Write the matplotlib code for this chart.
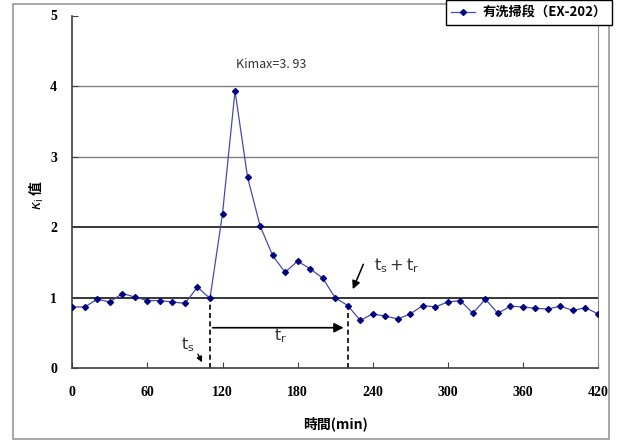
import matplotlib
matplotlib.use("Agg")
import matplotlib.pyplot as plt
from matplotlib.patches import Rectangle

plt.rcParams['font.family'] = ['Noto Sans CJK TC', 'DejaVu Sans']

minutes = [0, 10, 20, 30, 40, 50, 60, 70, 80, 90, 100, 110, 120, 130, 140,
           150, 160, 170, 180, 190, 200, 210, 220, 230, 240, 250, 260, 270,
           280, 290, 300, 310, 320, 330, 340, 350, 360, 370, 380, 390, 400,
           410, 420]
ki = [0.87, 0.87, 0.98, 0.94, 1.06, 1.01, 0.96, 0.96, 0.94, 0.92, 1.15, 0.99,
      2.19, 3.93, 2.71, 2.02, 1.60, 1.36, 1.52, 1.41, 1.28, 1.00, 0.89, 0.68,
      0.77, 0.74, 0.70, 0.77, 0.89, 0.87, 0.94, 0.96, 0.78, 0.98, 0.78, 0.88,
      0.87, 0.85, 0.84, 0.88, 0.82, 0.86, 0.77]
x_ticks = [0, 60, 120, 180, 240, 300, 360, 420]
y_ticks = [0, 1, 2, 3, 4, 5]
series_name = '有洗掃段（EX-202）'
ts = 110
tr_end = 220
ki_max = 3.93

fig = plt.figure(figsize=(6.19, 4.45), dpi=100)
ax = fig.add_axes([72.3/619, 1-368.3/445, (598-72.3)/619, (368.3-15.5)/445])

# grid lines (1 and 2 dark, 3 and 4 gray like the original)
for v in [1, 2]:
    ax.axhline(v, color='black', lw=1.1, zorder=1)
for v in [3, 4]:
    ax.axhline(v, color='#808080', lw=1.0, zorder=1)

ax.plot(minutes, ki, color='#4a4aa8', lw=0.9, marker='D', markersize=3,
        markerfacecolor='#000080', markeredgecolor='#000080', zorder=3,
        label=series_name)

ax.set_xlim(0, 420)
ax.set_ylim(0, 5)
ax.set_xticks(x_ticks)
ax.set_yticks(y_ticks)
ax.tick_params(direction='in', length=4, color='#404040')
ax.tick_params(axis='x', pad=13)
ax.tick_params(axis='y', pad=11)
for lab in ax.get_xticklabels() + ax.get_yticklabels():
    lab.set_fontfamily('Liberation Serif')
    lab.set_fontweight('bold')
    lab.set_fontsize(10)

ax.spines['top'].set_visible(False)
ax.spines['right'].set_color('#909090')
ax.spines['left'].set_color('#404040')
ax.spines['bottom'].set_color('#404040')
ax.spines['left'].set_linewidth(1.2)
ax.spines['bottom'].set_linewidth(1.2)

ax.set_xlabel('時間(min)', fontsize=10, fontweight='bold', labelpad=12)
ax.set_ylabel(r'$\kappa_{\mathrm{i}}$ 值', fontsize=10, fontweight='bold')
ax.yaxis.set_label_coords((46 - 72.3) / 525.7, 0.49)

# t_s and t_s+t_r markers
ax.plot([ts, ts], [0, ki[minutes.index(ts)]], color='black', lw=1.2, ls=(0, (3, 2)), zorder=2)
ax.plot([tr_end, tr_end], [0, ki[minutes.index(tr_end)]], color='black', lw=1.2, ls=(0, (3, 2)), zorder=2)
ax.annotate('', xy=(tr_end - 1, 0.575), xytext=(ts, 0.575),
            arrowprops=dict(arrowstyle='-|>', color='black', lw=1.2, mutation_scale=14))
ax.text(166, 0.46, r'$\mathrm{t}_{\mathrm{r}}$', ha='center', va='center', fontsize=11.5, color='#333333')
ax.text(92, 0.33, r'$\mathrm{t}_{\mathrm{s}}$', ha='center', va='center', fontsize=11.5, color='#333333')
ax.annotate('', xy=(104.7, 0.05), xytext=(99.4, 0.235),
            arrowprops=dict(arrowstyle='-|>', color='black', lw=1, mutation_scale=8))
ax.text(241, 1.46, r'$\mathrm{t}_{\mathrm{s}}+\mathrm{t}_{\mathrm{r}}$', ha='left', va='center',
        fontsize=11.5, color='#333333')
ax.annotate('', xy=(223.2, 1.085), xytext=(233.4, 1.51),
            arrowprops=dict(arrowstyle='-|>', color='black', lw=1.1, mutation_scale=12))
ax.text(158.5, 4.31, 'Kimax=' + f'{ki_max:.2f}'.replace('.', '. '),
        ha='center', va='center', fontsize=9, color='#333333')

# outer chart frame
fig.patches.append(Rectangle((13/619, 1-439/445), (609-13)/619, (439-4)/445,
                             transform=fig.transFigure, fill=False,
                             edgecolor='#999999', lw=1.2))

leg = fig.legend(loc='upper right', bbox_to_anchor=(612/619, 1.0), borderaxespad=0,
                 fancybox=False, edgecolor='black', framealpha=1,
                 handlelength=1.8, handletextpad=0.6,
                 prop={'weight': 'bold', 'size': 9.5})
leg.get_frame().set_linewidth(1.0)

fig.savefig('out.png', dpi=100)
